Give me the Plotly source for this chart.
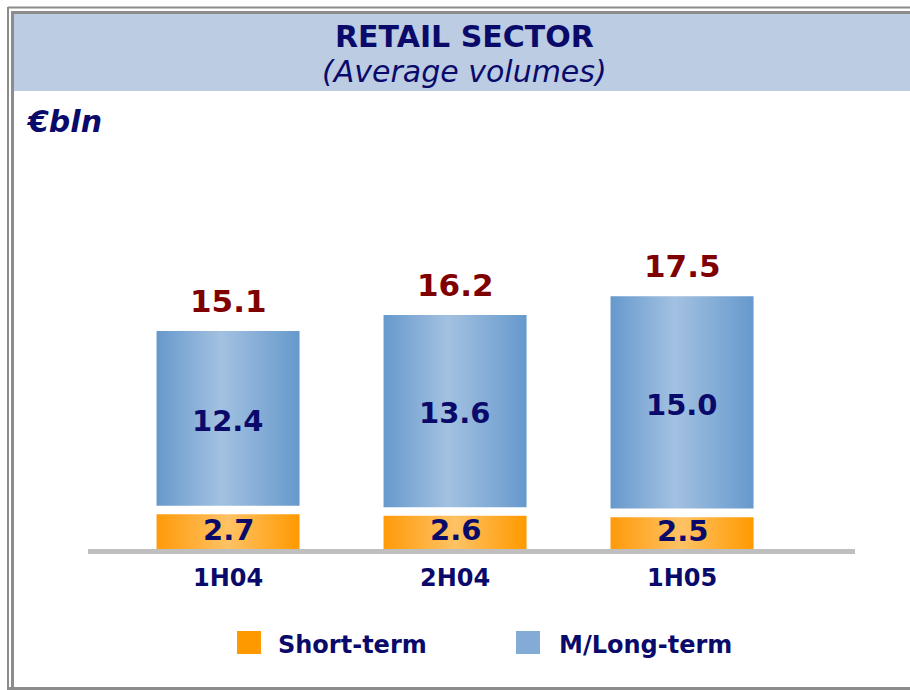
import plotly.graph_objects as go

periods = ['1H04', '2H04', '1H05']
short_term = [2.7, 2.6, 2.5]
long_term = [12.4, 13.6, 15.0]
totals = [15.1, 16.2, 17.5]

W, H = 910, 690
NAVY = '#0A0A6B'
DARKRED = '#7F0000'
FONT = 'DejaVu Sans'

orange_scale = [[0, '#FF9A0A'], [0.5, '#FFC264'], [1, '#FF9900']]
blue_scale = [[0, '#6699CC'], [0.45, '#A3C1E1'], [1, '#6699CC']]

half = 0.315   # half bar width (x units)
gap = 0.6      # white gap between stacked segments (y units)

fig = go.Figure()

for i, p in enumerate(periods):
    top = short_term[i] + long_term[i]
    segs = [
        (0, short_term[i] - gap / 2, orange_scale),
        (short_term[i] + gap / 2, top, blue_scale),
    ]
    for y0, y1, cs in segs:
        fig.add_trace(go.Scatter(
            x=[i - half, i + half, i + half, i - half, i - half],
            y=[y0, y0, y1, y1, y0],
            fill='toself',
            fillgradient=dict(type='horizontal', colorscale=cs),
            mode='lines',
            line=dict(width=0),
            hoverinfo='skip',
            showlegend=False,
        ))

annotations = []
for i, p in enumerate(periods):
    annotations.append(dict(x=i, y=short_term[i] / 2, text=f'<b>{short_term[i]:.1f}</b>',
                            showarrow=False, font=dict(size=29, color=NAVY, family=FONT)))
    annotations.append(dict(x=i, y=short_term[i] + long_term[i] / 2, text=f'<b>{long_term[i]:.1f}</b>',
                            showarrow=False, font=dict(size=29, color=NAVY, family=FONT)))
    annotations.append(dict(x=i, y=totals[i], text=f'<b>{totals[i]:.1f}</b>', yanchor='bottom',
                            yshift=10, showarrow=False, font=dict(size=31, color=DARKRED, family=FONT)))


def px(x):
    return x / W


def py(y):
    return 1 - y / H


# header texts and legend labels
annotations += [
    dict(x=px(465), y=py(37), xref='paper', yref='paper', yanchor='middle', text='<b>RETAIL SECTOR</b>',
         showarrow=False, font=dict(size=30, color=NAVY, family=FONT)),
    dict(x=px(465), y=py(71), xref='paper', yref='paper', yanchor='middle', text='<i>(Average volumes)</i>',
         showarrow=False, font=dict(size=30, color=NAVY, family=FONT)),
    dict(x=px(24), y=py(122), xref='paper', yref='paper', xanchor='left', yanchor='middle',
         text='<b><i>€bln</i></b>', showarrow=False, font=dict(size=30, color=NAVY, family=FONT)),
    dict(x=px(276), y=py(645), xref='paper', yref='paper', xanchor='left', yanchor='middle',
         text='<b>Short-term</b>', showarrow=False, font=dict(size=24, color=NAVY, family=FONT)),
    dict(x=px(557), y=py(645), xref='paper', yref='paper', xanchor='left', yanchor='middle',
         text='<b>M/Long-term</b>', showarrow=False, font=dict(size=24, color=NAVY, family=FONT)),
]

GRAY = '#8C8C8C'
shapes = [
    # title band
    dict(type='rect', xref='paper', yref='paper', x0=px(14), x1=1, y0=py(91), y1=py(14),
         fillcolor='#BBCCE3', line=dict(width=0), layer='below'),
    # outer frame
    dict(type='line', xref='paper', yref='paper', x0=px(8), x1=1, y0=py(7.5), y1=py(7.5),
         line=dict(color=GRAY, width=2)),
    dict(type='line', xref='paper', yref='paper', x0=px(8), x1=px(8), y0=py(7), y1=0,
         line=dict(color=GRAY, width=2)),
    # inner frame
    dict(type='line', xref='paper', yref='paper', x0=px(12.5), x1=1, y0=py(12.5), y1=py(12.5),
         line=dict(color=GRAY, width=3)),
    dict(type='line', xref='paper', yref='paper', x0=px(12.5), x1=px(12.5), y0=py(11), y1=py(688),
         line=dict(color=GRAY, width=3)),
    dict(type='line', xref='paper', yref='paper', x0=px(8), x1=1, y0=py(688.5), y1=py(688.5),
         line=dict(color=GRAY, width=3)),
    # legend squares
    dict(type='rect', xref='paper', yref='paper', x0=px(237), x1=px(261), y0=py(654), y1=py(631),
         fillcolor='#FF9900', line=dict(width=0)),
    dict(type='rect', xref='paper', yref='paper', x0=px(516), x1=px(540), y0=py(654), y1=py(631),
         fillcolor='#84ABD6', line=dict(width=0)),
]

fig.update_layout(
    width=W, height=H,
    margin=dict(l=0, r=0, t=0, b=0),
    paper_bgcolor='white',
    plot_bgcolor='white',
    showlegend=False,
    xaxis=dict(
        domain=[px(88), px(855)],
        range=[-0.617, 2.762],
        tickmode='array',
        tickvals=list(range(len(periods))),
        ticktext=[f'<b>{p}</b>' for p in periods],
        tickfont=dict(size=24, color=NAVY, family=FONT),
        ticks='outside', ticklen=3, tickcolor='rgba(0,0,0,0)',
        showline=True, linecolor='#BFBFBF', linewidth=5,
        showgrid=False, zeroline=False, fixedrange=True,
    ),
    yaxis=dict(
        domain=[py(549), py(100)],
        range=[0, 31.1],
        visible=False,
        fixedrange=True,
    ),
    annotations=annotations,
    shapes=shapes,
)

# drop the default body margin so the figure sits at the page origin
fig.write_html('out.html', config={'displayModeBar': False},
               post_script="document.body.style.margin='0';")
